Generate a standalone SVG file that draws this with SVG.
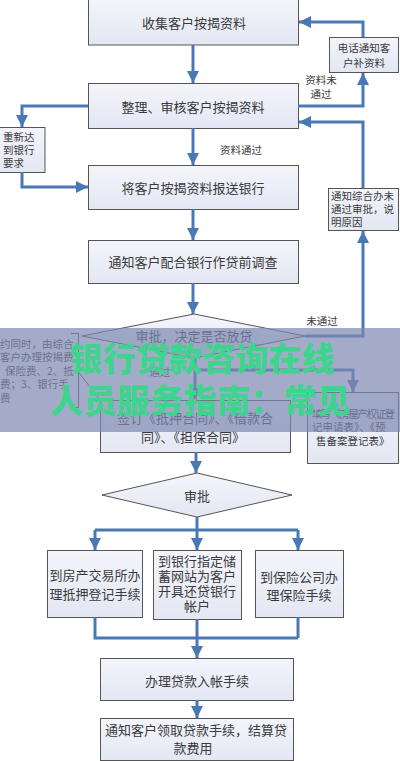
<svg xmlns="http://www.w3.org/2000/svg" width="400" height="761" viewBox="0 0 400 761">
<style>
.box{fill:url(#g);stroke:#555;stroke-width:1}
.t{font-family:"Noto Sans CJK SC","Noto Sans",sans-serif;fill:#3a3a3a;font-size:13px;text-anchor:middle;dominant-baseline:central}
.s{font-size:10.5px}
.l{text-anchor:start}
.c{fill:none;stroke:#4a78b4;stroke-width:3}
.a{marker-end:url(#ah)}
.thin{fill:none;stroke:#555;stroke-width:1}
.wm{font-family:"Noto Sans CJK SC",sans-serif;font-weight:900;font-size:33px;fill:#3fd48e;text-anchor:middle}
</style>
<defs>
<linearGradient id="g" x1="0" y1="0" x2="0" y2="1">
<stop offset="0" stop-color="#f4f5fb"/>
<stop offset="1" stop-color="#e3e7f3"/>
</linearGradient>
<marker id="ah" markerUnits="userSpaceOnUse" markerWidth="12" markerHeight="12" refX="12" refY="6" orient="auto">
<path d="M0,0 L12,6 L0,12 z" fill="#4a78b4"/>
</marker>
</defs>
<rect width="400" height="761" fill="#fff"/>

<g id="n1"><rect class="box" x="88.5" y="-2" width="210" height="47"/><text class="t" x="194" y="22" font-size="13.5">收集客户按揭资料</text></g>
<g id="n2"><rect class="box" x="88.5" y="83.5" width="210" height="45"/><text class="t" x="193" y="106">整理、审核客户按揭资料</text></g>
<g id="n3"><rect class="box" x="88.5" y="165.5" width="210" height="44"/><text class="t" x="193" y="187">将客户按揭资料报送银行</text></g>
<g id="n4"><rect class="box" x="88.5" y="240.5" width="210" height="43"/><text class="t" x="193" y="261">通知客户配合银行作贷前调查</text></g>
<g id="n5"><rect class="box" x="329.5" y="37.5" width="69" height="35"/><text class="t s" x="364" y="47">电话通知客</text><text class="t s" x="364" y="62">户补资料</text></g>
<g id="n6"><rect class="box" x="-1" y="127.5" width="46" height="45"/><text class="t s l" x="3" y="136">重新达</text><text class="t s l" x="3" y="149">到银行</text><text class="t s l" x="3" y="162">要求</text></g>
<g id="n7"><rect class="box" x="328.5" y="188.5" width="70" height="42"/><text class="t s l" x="331" y="195">通知综合办未</text><text class="t s l" x="331" y="208">通过审批，说</text><text class="t s l" x="331" y="221">明原因</text></g>
<g id="d1"><polygon class="box" points="194,314 305,336 194,358 82,336"/><text class="t" x="194" y="335" font-size="12.5">审批，决定是否放贷</text></g>
<g id="note"><text class="t s l" x="0" y="343">约同时，由综合</text><text class="t s l" x="0" y="356">客户办理按揭费</text><text class="t s l" x="5" y="370">保险费、2、抵</text><text class="t s l" x="0" y="383">费；3、银行手</text><text class="t s l" x="0" y="397">费</text>
<path class="thin" d="M71,333.5 H78.5 V407.5 H71"/><path class="thin" d="M78.5,372 L100,400"/></g>
<g id="n8"><rect class="box" x="100.5" y="400.5" width="190" height="52"/><text class="t" x="195" y="417" font-size="12.5">签订《抵押合同》、《借款合</text><text class="t" x="193" y="436" font-size="12.5">同》、《担保合同》</text></g>
<g id="n9"><rect class="box" x="307.5" y="392.5" width="91" height="71"/><text class="t s l" x="312" y="413" textLength="83">填写《房屋产权证登</text><text class="t s l" x="312" y="426">记申请表》、《预</text><text class="t s l" x="316" y="440">售备案登记表》</text></g>
<g id="d2"><polygon class="box" points="197,473 292,495 197,517 102,495"/><text class="t" x="197" y="495">审批</text></g>
<g id="n10"><rect class="box" x="47.5" y="550.5" width="95" height="67"/><text class="t" x="95" y="574">到房产交易所办</text><text class="t" x="95" y="593">理抵押登记手续</text></g>
<g id="n11"><rect class="box" x="153.5" y="550.5" width="88" height="69"/><text class="t" x="197" y="560">到银行指定储</text><text class="t" x="197" y="575">蓄网站为客户</text><text class="t" x="197" y="590">开具还贷银行</text><text class="t" x="197" y="605">帐户</text></g>
<g id="n12"><rect class="box" x="255.5" y="550.5" width="88" height="67"/><text class="t" x="299" y="576">到保险公司办</text><text class="t" x="299" y="594">理保险手续</text></g>
<g id="n13"><rect class="box" x="100.5" y="658.5" width="193" height="42"/><text class="t" x="197" y="680" font-size="12.5">办理贷款入帐手续</text></g>
<g id="n14"><rect class="box" x="100.5" y="718.5" width="193" height="42"/><text class="t" x="196" y="729" font-size="12.5">通知客户领取贷款手续，结算贷</text><text class="t" x="193" y="747" font-size="12.5">款费用</text></g>

<g id="connectors">
<path class="c a" d="M193,45 V83"/>
<path class="c a" d="M193,128 V165"/>
<path class="c a" d="M193,209 V240"/>
<path class="c a" d="M193,283 V314"/>
<path class="c a" d="M88,106 H22 V127"/>
<path class="c a" d="M22,172 V187 H88"/>
<path class="c a" d="M298,106 H363 V73"/>
<path class="c a" d="M363,37 V22 H299"/>
<path class="c a" d="M305,336 H363 V231"/>
<path class="c a" d="M363,188 V122 H299"/>
<path class="c a" d="M195,358 V400"/>
<path class="c a" d="M195,370 H353 V392"/>
<path class="c a" d="M196,452 V473"/>
<path class="c" d="M197,517 V530 M95,530 H298"/>
<path class="c a" d="M95,530 V550"/>
<path class="c a" d="M197,530 V550"/>
<path class="c a" d="M298,530 V550"/>
<path class="c" d="M95,617 V638 H298 M298,617 V638 M197,619 V638"/>
<path class="c a" d="M197,638 V658"/>
<path class="c a" d="M197,700 V718"/>
<text class="t s" x="241" y="149">资料通过</text>
<text class="t s" x="321" y="79">资料未</text>
<text class="t s" x="321" y="93">通过</text>
<text class="t s" x="322" y="320">未通过</text>
<text class="t s" x="160" y="371">通过</text>
</g>

<g id="watermark">
<rect x="0" y="328" width="400" height="104" fill="#7d88b0" fill-opacity="0.7"/>
<text class="wm" x="202" y="371" textLength="265">银行贷款咨询在线</text>
<text class="wm" x="200" y="413" textLength="300">人员服务指南：常见</text>
</g>
</svg>
